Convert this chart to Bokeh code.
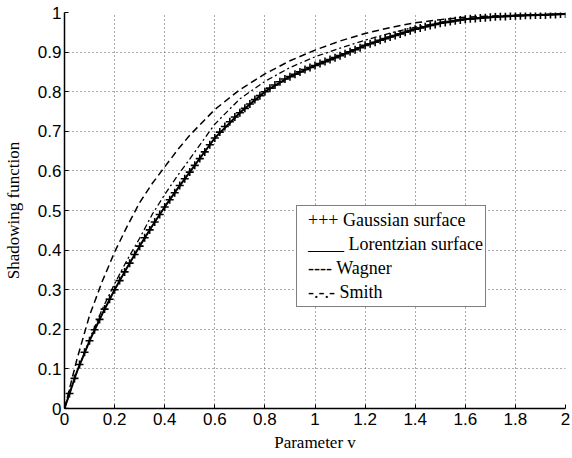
from bokeh.plotting import figure
from bokeh.models import Range1d, FixedTicker, Legend, LegendItem
from bokeh.embed import file_html
from bokeh.resources import INLINE

# ---- data ----
v_gauss = [round(0.02 * i, 2) for i in range(101)]
s_gauss = [0.000, 0.038, 0.076, 0.111, 0.142, 0.171, 0.199, 0.225, 0.251, 0.276,
           0.300, 0.323, 0.345, 0.367, 0.389, 0.410, 0.431, 0.451, 0.471, 0.490,
           0.509, 0.527, 0.545, 0.563, 0.580, 0.597, 0.614, 0.631, 0.648, 0.666,
           0.683, 0.698, 0.712, 0.724, 0.736, 0.747, 0.758, 0.769, 0.780, 0.790,
           0.800, 0.809, 0.817, 0.825, 0.832, 0.838, 0.844, 0.850, 0.856, 0.861,
           0.866, 0.871, 0.876, 0.881, 0.886, 0.891, 0.896, 0.901, 0.906, 0.911,
           0.917, 0.921, 0.925, 0.930, 0.934, 0.938, 0.942, 0.946, 0.950, 0.954,
           0.958, 0.961, 0.964, 0.967, 0.970, 0.973, 0.975, 0.977, 0.979, 0.981,
           0.983, 0.984, 0.985, 0.986, 0.987, 0.988, 0.989, 0.990, 0.990, 0.991,
           0.992, 0.992, 0.993, 0.993, 0.994, 0.994, 0.994, 0.995, 0.995, 0.996,
           0.996]

v_lor = [0, 0.05, 0.1, 0.15, 0.2, 0.25, 0.3, 0.35, 0.4, 0.45, 0.5, 0.6, 0.7,
         0.8, 0.9, 1.0, 1.1, 1.2, 1.3, 1.4, 1.5, 1.6, 1.7, 1.8, 1.9, 2.0]
s_lor = [0, 0.094, 0.171, 0.238, 0.300, 0.356, 0.410, 0.461, 0.509, 0.554,
         0.597, 0.683, 0.747, 0.800, 0.838, 0.866, 0.891, 0.917, 0.938, 0.958,
         0.973, 0.983, 0.988, 0.992, 0.994, 0.996]

v_wag = [0, 0.05, 0.1, 0.15, 0.2, 0.25, 0.3, 0.35, 0.4, 0.45, 0.5, 0.6, 0.7,
         0.8, 0.9, 1.0, 1.1, 1.2, 1.3, 1.4, 1.5, 1.6, 1.7, 1.8, 1.9, 2.0]
s_wag = [0, 0.125, 0.235, 0.320, 0.395, 0.460, 0.520, 0.568, 0.610, 0.652,
         0.690, 0.755, 0.805, 0.845, 0.878, 0.905, 0.928, 0.947, 0.962, 0.974,
         0.982, 0.988, 0.991, 0.993, 0.995, 0.996]

v_smith = [0, 0.05, 0.1, 0.15, 0.2, 0.25, 0.3, 0.35, 0.4, 0.45, 0.5, 0.6, 0.7,
           0.8, 0.9, 1.0, 1.1, 1.2, 1.3, 1.4, 1.5, 1.6, 1.7, 1.8, 1.9, 2.0]
s_smith = [0, 0.092, 0.175, 0.250, 0.315, 0.375, 0.430, 0.490, 0.540, 0.587,
           0.630, 0.718, 0.782, 0.826, 0.861, 0.888, 0.910, 0.930, 0.948, 0.963,
           0.975, 0.984, 0.989, 0.992, 0.994, 0.996]

x_ticks = [0, 0.2, 0.4, 0.6, 0.8, 1.0, 1.2, 1.4, 1.6, 1.8, 2.0]
x_tick_labels = ["0", "0.2", "0.4", "0.6", "0.8", "1", "1.2", "1.4", "1.6", "1.8", "2"]
y_ticks = [0, 0.1, 0.2, 0.3, 0.4, 0.5, 0.6, 0.7, 0.8, 0.9, 1.0]
y_tick_labels = ["0", "0.1", "0.2", "0.3", "0.4", "0.5", "0.6", "0.7", "0.8", "0.9", "1"]

legend_labels = ["+++ Gaussian surface", "____ Lorentzian surface",
                 "---- Wagner", "-.-.- Smith"]

# ---- figure ----
p = figure(frame_width=501, frame_height=396, output_backend="svg",
           toolbar_location=None,
           x_range=Range1d(0, 2), y_range=Range1d(0, 1),
           min_border_left=57, min_border_right=6, min_border_top=12,
           min_border_bottom=40)
p.outline_line_color = None
p.background_fill_color = "white"
p.border_fill_color = "white"

for ax, ticks, labels in ((p.xaxis[0], x_ticks, x_tick_labels),
                          (p.yaxis[0], y_ticks, y_tick_labels)):
    ax.ticker = FixedTicker(ticks=ticks)
    ax.major_label_overrides = dict(zip(ticks, labels))
    ax.major_tick_in = 4
    ax.major_tick_out = 0
    ax.minor_tick_line_color = None
    ax.axis_line_width = 1.5
    ax.axis_line_color = "black"
    ax.major_tick_line_color = "black"
    ax.major_label_text_font = "Liberation Sans"
    ax.major_label_text_font_size = "17px"
    ax.major_label_text_color = "black"
    ax.axis_label_text_font = "Liberation Serif"
    ax.axis_label_text_font_size = "17px"
    ax.axis_label_text_font_style = "normal"
    ax.axis_label_text_color = "black"

p.xaxis.axis_label = "Parameter v"
p.yaxis.axis_label = "Shadowing function"
p.xaxis.major_label_standoff = 4
p.yaxis.major_label_standoff = 3
p.xaxis.axis_label_standoff = 5
p.yaxis.axis_label_standoff = 12

p.xgrid.ticker = FixedTicker(ticks=x_ticks)
p.ygrid.ticker = FixedTicker(ticks=y_ticks)
for g in (p.xgrid[0], p.ygrid[0]):
    g.grid_line_color = "#555555"
    g.grid_line_dash = "1 3"
    g.grid_line_width = 1
    g.grid_line_alpha = 1

r_wag = p.line(v_wag, s_wag, line_color="black", line_width=1.5, line_dash="7 4")
r_smith = p.line(v_smith, s_smith, line_color="black", line_width=1.3,
                 line_dash="6 3 2 3")
r_lor = p.line(v_lor, s_lor, line_color="black", line_width=2)
r_gauss = p.scatter(v_gauss, s_gauss, marker="cross", size=8, line_color="black",
                    line_width=1.6)

items = [LegendItem(label=legend_labels[0], renderers=[r_gauss]),
         LegendItem(label=legend_labels[1], renderers=[r_lor]),
         LegendItem(label=legend_labels[2], renderers=[r_wag]),
         LegendItem(label=legend_labels[3], renderers=[r_smith])]
legend = Legend(items=items, location=(232, 101), glyph_width=0, glyph_height=24,
                label_height=24, label_width=174, label_standoff=9, padding=2,
                spacing=0, margin=0, border_line_color="black", border_line_width=1,
                background_fill_color="white", background_fill_alpha=1,
                label_text_font="Liberation Serif", label_text_font_size="18px",
                label_text_color="black")
p.add_layout(legend)

open("out.html", "w").write(file_html(p, INLINE))
